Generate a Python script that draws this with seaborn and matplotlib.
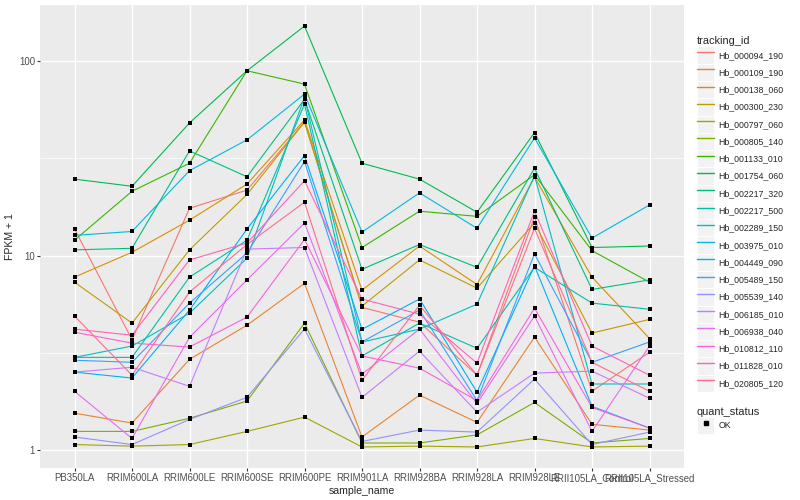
import numpy as np
import pandas as pd
import seaborn as sns
import matplotlib
matplotlib.use("Agg")
import matplotlib.pyplot as plt
from matplotlib.lines import Line2D
from matplotlib.patches import Rectangle
from matplotlib.legend_handler import HandlerLine2D
from matplotlib.ticker import FixedLocator, NullFormatter

# sample order on the x axis
samples = ["PB350LA", "RRIM600LA", "RRIM600LE", "RRIM600SE", "RRIM600PE",
           "RRIM901LA", "RRIM928BA", "RRIM928LA", "RRIM928LE",
           "RRII105LA_Control", "RRII105LA_Stressed"]

tracking_ids = ["Hb_000094_190", "Hb_000109_190", "Hb_000138_060", "Hb_000300_230",
                "Hb_000797_060", "Hb_000805_140", "Hb_001133_010", "Hb_001754_060",
                "Hb_002217_320", "Hb_002217_500", "Hb_002289_150", "Hb_003975_010",
                "Hb_004449_090", "Hb_005489_150", "Hb_005539_140", "Hb_006185_010",
                "Hb_006938_040", "Hb_010812_110", "Hb_011828_010", "Hb_020805_120"]

# FPKM + 1 per gene
hb_000094_190 = [13.7, 3.7, 17.5, 21.7, 48.5, 5.42, 4.55, 2.43, 15.8, 2.01, 3.19]
hb_000109_190 = [1.55, 1.38, 2.93, 4.39, 7.2, 1.17, 1.92, 1.39, 3.81, 1.36, 1.27]
hb_000138_060 = [7.75, 10.4, 15.2, 23.3, 49.7, 6.65, 11.2, 7.1, 25.3, 7.75, 3.75]
hb_000300_230 = [7.3, 4.5, 10.7, 20.6, 48.5, 5.5, 9.5, 6.8, 14.7, 4.0, 4.7]
hb_000797_060 = [1.07, 1.05, 1.07, 1.25, 1.48, 1.04, 1.05, 1.04, 1.15, 1.04, 1.05]
hb_000805_140 = [1.25, 1.25, 1.46, 1.79, 4.5, 1.09, 1.09, 1.2, 1.76, 1.09, 1.15]
hb_001133_010 = [12.0, 21.4, 29.8, 89.0, 76.0, 11.0, 16.9, 15.9, 26.0, 10.6, 7.3]
hb_001754_060 = [24.7, 22.7, 48.0, 89.0, 151.0, 29.8, 24.7, 16.7, 42.8, 11.0, 11.2]
hb_002217_320 = [10.7, 10.9, 34.5, 25.4, 63.5, 8.5, 11.4, 8.7, 28.1, 6.7, 7.5]
hb_002217_500 = [3.0, 3.0, 7.75, 12.0, 60.0, 3.05, 4.5, 3.34, 8.7, 5.7, 5.3]
hb_002289_150 = [3.0, 3.43, 5.06, 9.7, 65.0, 3.6, 4.19, 5.63, 25.7, 2.19, 2.19]
hb_003975_010 = [12.7, 13.3, 27.3, 39.3, 67.5, 13.2, 21.0, 13.8, 40.2, 12.3, 18.2]
hb_004449_090 = [2.52, 2.35, 5.25, 13.7, 32.6, 4.18, 5.98, 1.99, 8.85, 1.68, 1.3]
hb_005489_150 = [2.9, 2.83, 5.7, 10.3, 30.4, 3.6, 5.25, 1.8, 10.2, 2.83, 3.6]
hb_005539_140 = [1.17, 1.07, 1.44, 1.87, 4.2, 1.11, 1.27, 1.24, 2.32, 1.07, 1.24]
hb_006185_010 = [2.52, 2.67, 2.13, 10.8, 11.0, 1.87, 3.23, 1.57, 2.49, 2.55, 1.85]
hb_006938_040 = [2.01, 1.15, 3.8, 7.5, 14.7, 2.46, 4.19, 1.74, 4.89, 1.25, 3.43]
hb_010812_110 = [4.04, 3.55, 3.39, 4.83, 12.1, 3.05, 2.64, 1.8, 5.36, 1.66, 1.3]
hb_011828_010 = [4.19, 3.9, 9.5, 11.6, 24.2, 5.98, 5.0, 2.8, 16.9, 3.43, 2.43]
hb_020805_120 = [4.89, 2.43, 6.5, 11.4, 18.8, 2.29, 5.56, 2.43, 13.8, 2.83, 2.01]

series = [hb_000094_190, hb_000109_190, hb_000138_060, hb_000300_230, hb_000797_060,
          hb_000805_140, hb_001133_010, hb_001754_060, hb_002217_320, hb_002217_500,
          hb_002289_150, hb_003975_010, hb_004449_090, hb_005489_150, hb_005539_140,
          hb_006185_010, hb_006938_040, hb_010812_110, hb_011828_010, hb_020805_120]

# ggplot default hue palette for 20 levels
palette = ["#F8766D", "#EA8331", "#D89000", "#C09B00", "#A3A500", "#7CAE00",
           "#39B600", "#00BB4E", "#00BF7D", "#00C1A3", "#00BFC4", "#00BAE0",
           "#00B0F6", "#35A2FF", "#9590FF", "#C77CFF", "#E76BF3", "#FA62DB",
           "#FF62BC", "#FF6C91"]

df = pd.DataFrame({
    "tracking_id": np.repeat(tracking_ids, len(samples)),
    "sample_name": samples * len(tracking_ids),
    "fpkm": np.concatenate(series),
    "quant_status": "OK",
})

sns.set_theme(style="darkgrid", rc={"axes.facecolor": "#EBEBEB", "grid.color": "white"})
plt.rcParams["font.family"] = ["Liberation Sans", "DejaVu Sans"]

fig = plt.figure(figsize=(8, 5), dpi=100)
ax = fig.add_axes([0.05, 0.064, 0.805, 0.926])

sns.lineplot(data=df, x="sample_name", y="fpkm", hue="tracking_id",
             hue_order=tracking_ids, palette=palette, estimator=None, sort=False,
             linewidth=0.8, legend=False, ax=ax)
sns.scatterplot(data=df, x="sample_name", y="fpkm", color="black", marker="s",
                s=10, linewidth=0, legend=False, ax=ax, zorder=3)

ax.set_yscale("log")
lo, hi = np.log10(df["fpkm"].min()), np.log10(df["fpkm"].max())
pad = (hi - lo) * 0.05
ax.set_ylim(10 ** (lo - pad), 10 ** (hi + pad))
ax.set_xlim(-0.6, len(samples) - 0.4)

ax.yaxis.set_major_locator(FixedLocator([1, 10, 100]))
ax.set_yticklabels(["1", "10", "100"])
ax.yaxis.set_minor_locator(FixedLocator([10 ** -0.5, 10 ** 0.5, 10 ** 1.5]))
ax.yaxis.set_minor_formatter(NullFormatter())
ax.grid(True, which="major", color="white", linewidth=1.0)
ax.grid(True, which="minor", axis="y", color="white", linewidth=0.5)
ax.set_axisbelow(True)
for s in ax.spines.values():
    s.set_visible(False)

ax.tick_params(which="major", bottom=True, left=True, length=2, width=0.8,
               color="#333333", labelsize=6.9, labelcolor="#4D4D4D", pad=1.5)
ax.tick_params(which="minor", length=0)
ax.set_xlabel("sample_name", fontsize=7.6, labelpad=2)
ax.set_ylabel("FPKM + 1", fontsize=7.6, labelpad=3)


class KeyHandler(HandlerLine2D):
    # grey key box behind each legend glyph, ggplot style
    def create_artists(self, legend, orig_handle, xdescent, ydescent, width, height, fontsize, trans):
        box = Rectangle((-xdescent, -ydescent), width, height, facecolor="#F2F2F2",
                        edgecolor="white", linewidth=0.7, transform=trans)
        arts = super().create_artists(legend, orig_handle, xdescent, ydescent,
                                      width, height, fontsize, trans)
        return [box] + arts


legend_kw = dict(loc="upper left", frameon=False, fontsize=6.3, title_fontsize=7.9,
                 handlelength=2.0, handleheight=2.66, labelspacing=0.0,
                 handletextpad=0.45, borderpad=0, borderaxespad=0, alignment="left",
                 handler_map={Line2D: KeyHandler()})

hue_handles = [Line2D([], [], color=c, linewidth=1.0) for c in palette]
leg1 = fig.legend(hue_handles, tracking_ids, title="tracking_id",
                  bbox_to_anchor=(0.871, 0.927), **legend_kw)

ok_handle = [Line2D([], [], color="black", marker="s", markersize=2.8, linestyle="none")]
leg2 = fig.legend(ok_handle, ["OK"], title="quant_status",
                  bbox_to_anchor=(0.871, 0.186), **legend_kw)

fig.savefig("out.png", dpi=100)
